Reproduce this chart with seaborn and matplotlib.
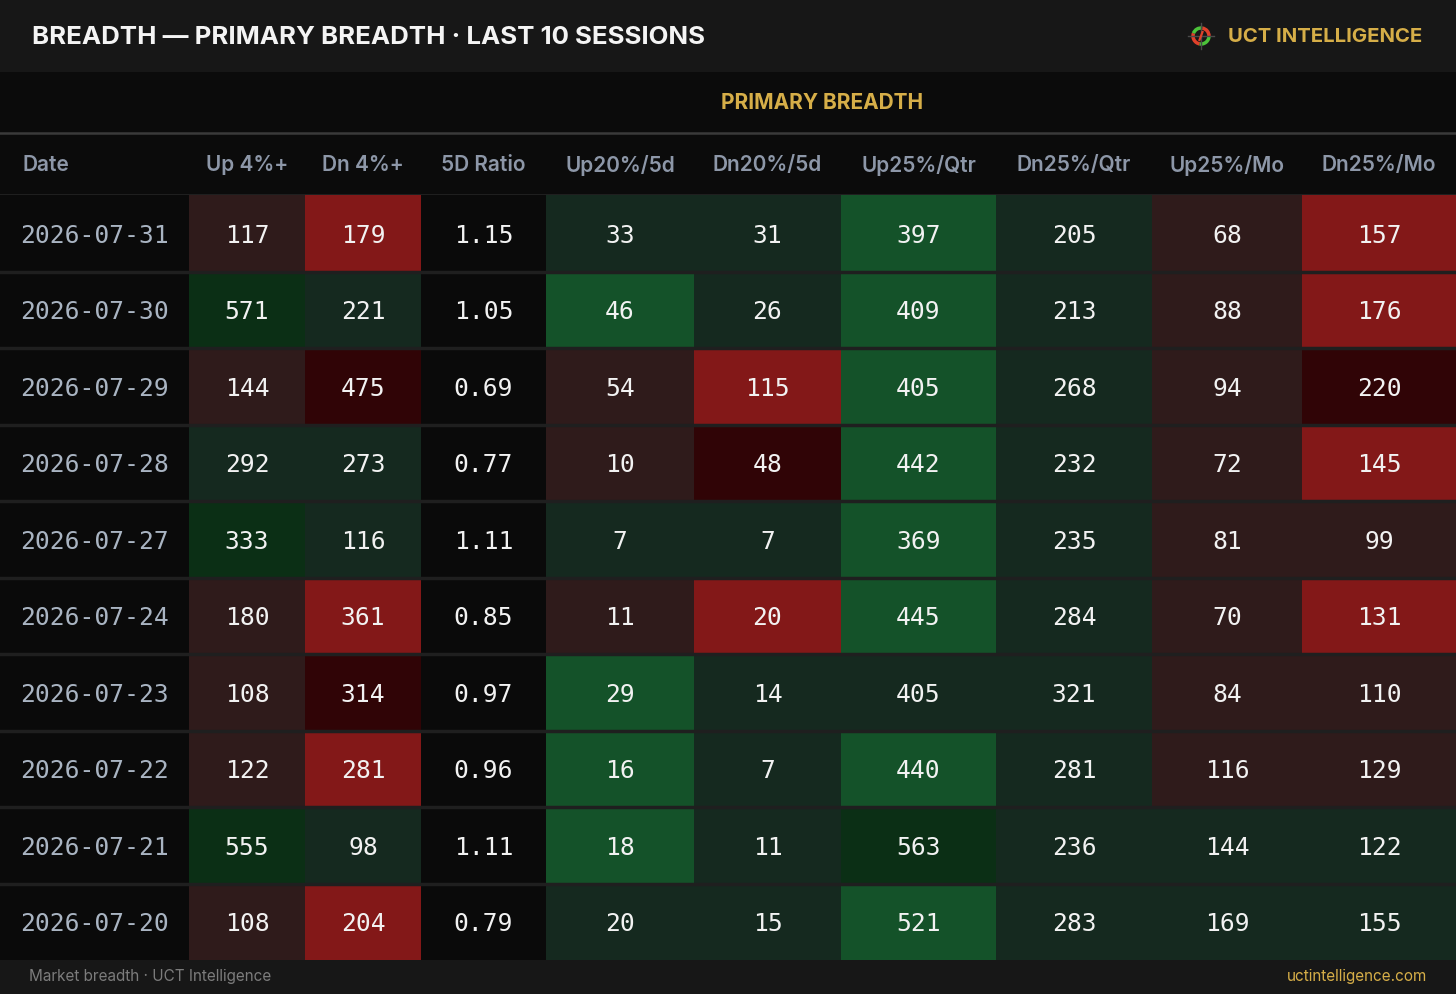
import numpy as np
import pandas as pd
import seaborn as sns
import matplotlib.pyplot as plt
from matplotlib.colors import ListedColormap
from matplotlib.patches import Rectangle, Arc

dates = ['2026-07-31', '2026-07-30', '2026-07-29', '2026-07-28', '2026-07-27',
         '2026-07-24', '2026-07-23', '2026-07-22', '2026-07-21', '2026-07-20']
up4 = [117, 571, 144, 292, 333, 180, 108, 122, 555, 108]
dn4 = [179, 221, 475, 273, 116, 361, 314, 281, 98, 204]
ratio5d = [1.15, 1.05, 0.69, 0.77, 1.11, 0.85, 0.97, 0.96, 1.11, 0.79]
up20_5d = [33, 46, 54, 10, 7, 11, 29, 16, 18, 20]
dn20_5d = [31, 26, 115, 48, 7, 20, 14, 7, 11, 15]
up25_qtr = [397, 409, 405, 442, 369, 445, 405, 440, 563, 521]
dn25_qtr = [205, 213, 268, 232, 235, 284, 321, 281, 236, 283]
up25_mo = [68, 88, 94, 72, 81, 70, 84, 116, 144, 169]
dn25_mo = [157, 176, 220, 145, 99, 131, 110, 129, 122, 155]

# cell shading
up4_shade = ['mr', 'dg', 'mr', 'mg', 'dg', 'mr', 'mr', 'mr', 'dg', 'mr']
dn4_shade = ['r', 'mg', 'dr', 'mg', 'mg', 'r', 'dr', 'r', 'mg', 'r']
up20_shade = ['mg', 'g', 'mr', 'mr', 'mg', 'mr', 'g', 'g', 'g', 'mg']
dn20_shade = ['mg', 'mg', 'r', 'dr', 'mg', 'r', 'mg', 'mg', 'mg', 'mg']
up25q_shade = ['g', 'g', 'g', 'g', 'g', 'g', 'mg', 'g', 'dg', 'g']
dn25q_shade = ['mg'] * 10
up25m_shade = ['mr', 'mr', 'mr', 'mr', 'mr', 'mr', 'mr', 'mr', 'mg', 'mg']
dn25m_shade = ['r', 'r', 'dr', 'r', 'mr', 'r', 'mr', 'mr', 'mg', 'mg']
neutral = ['n'] * 10

headers = ['Date', 'Up 4%+', 'Dn 4%+', '5D Ratio', 'Up20%/5d', 'Dn20%/5d',
           'Up25%/Qtr', 'Dn25%/Qtr', 'Up25%/Mo', 'Dn25%/Mo']

shade_names = ['n', 'mr', 'r', 'dr', 'mg', 'g', 'dg']
shade_colors = ['#0a0a0a', '#2f1b1b', '#831818', '#300406', '#15291f', '#145229', '#0b2f15']
cmap = ListedColormap(shade_colors)

columns = [
    (dates, neutral, '', '#a9b4c2'),
    (up4, up4_shade, 'd', '#f2f2f2'),
    (dn4, dn4_shade, 'd', '#f2f2f2'),
    (ratio5d, neutral, '.2f', '#f2f2f2'),
    (up20_5d, up20_shade, 'd', '#f2f2f2'),
    (dn20_5d, dn20_shade, 'd', '#f2f2f2'),
    (up25_qtr, up25q_shade, 'd', '#f2f2f2'),
    (dn25_qtr, dn25q_shade, 'd', '#f2f2f2'),
    (up25_mo, up25m_shade, 'd', '#f2f2f2'),
    (dn25_mo, dn25m_shade, 'd', '#f2f2f2'),
]

W, H = 1456, 994
edges = [0, 189, 305, 421, 546, 694, 841, 996, 1152, 1302, 1456]
top, bottom = 195, 960
gold = '#d6ae48'
ui_font = ['Inter', 'DejaVu Sans']

fig = plt.figure(figsize=(W / 100, H / 100), dpi=100)
fig.patch.set_facecolor('#0b0b0b')

bg = fig.add_axes([0, 0, 1, 1])
bg.set_xlim(0, W)
bg.set_ylim(H, 0)
bg.axis('off')
bg.add_patch(Rectangle((0, 0), W, 72, color='#171717', lw=0))
bg.add_patch(Rectangle((0, 72), W, 123, color='#0b0b0b', lw=0))
bg.add_patch(Rectangle((0, bottom), W, H - bottom, color='#171717', lw=0))
bg.plot([0, W], [133, 133], color='#3a3a3a', lw=1.8)
bg.plot([0, W], [top, top], color='#222222', lw=2)

bg.text(32, 37, 'BREADTH — PRIMARY BREADTH · LAST 10 SESSIONS', color='#f4f4f4',
        fontsize=18.6, fontweight='bold', family=ui_font, va='center', ha='left')
bg.text(1422, 37, 'UCT INTELLIGENCE', color=gold, fontsize=14.6, fontweight='bold',
        family=ui_font, va='center', ha='right')

# small crosshair logo
cx, cy, r = 1201, 36, 8
bg.add_patch(Arc((cx, cy), 2 * r, 2 * r, theta1=100, theta2=200, color='#e0402a', lw=2.5))
bg.add_patch(Arc((cx, cy), 2 * r, 2 * r, theta1=200, theta2=280, color='#4cc33a', lw=2.5))
bg.add_patch(Arc((cx, cy), 2 * r, 2 * r, theta1=280, theta2=360, color='#e0402a', lw=2.5))
bg.add_patch(Arc((cx, cy), 2 * r, 2 * r, theta1=0, theta2=100, color='#4cc33a', lw=2.5))
bg.plot([cx, cx], [cy - 13, cy + 13], color='#4a4a4a', lw=1)
bg.plot([cx - 13, cx + 13], [cy, cy], color='#4a4a4a', lw=1)
bg.plot([cx - 1.5, cx + 1.5], [cy + 4, cy - 4], color='#e0402a', lw=1.6)

bg.text(822, 103, 'PRIMARY BREADTH', color=gold, fontsize=15, fontweight='bold',
        family=ui_font, va='center', ha='center')

for i, h in enumerate(headers):
    if i == 0:
        bg.text(23, 165, h, color='#8d97a8', fontsize=15, fontweight='semibold',
                family=ui_font, va='center', ha='left')
    else:
        bg.text((edges[i] + edges[i + 1]) / 2, 165, h, color='#8d97a8', fontsize=15,
                fontweight='semibold', family=ui_font, va='center', ha='center')

bg.text(29, 976, 'Market breadth · UCT Intelligence', color='#7c7c7c', fontsize=11,
        family=ui_font, va='center', ha='left')
bg.text(1427, 976, 'uctintelligence.com', color=gold, fontsize=11,
        family=ui_font, va='center', ha='right')

for i, (vals, shade, fmt, tcolor) in enumerate(columns):
    x0, x1 = edges[i], edges[i + 1]
    ax = fig.add_axes([x0 / W, 1 - bottom / H, (x1 - x0) / W, (bottom - top) / H])
    codes = pd.DataFrame({'c': [shade_names.index(s) for s in shade]})
    annot = np.array(vals, dtype=object).reshape(-1, 1) if fmt == '' else np.array(vals).reshape(-1, 1)
    sns.heatmap(codes, cmap=cmap, vmin=-0.5, vmax=len(shade_names) - 0.5, cbar=False,
                annot=annot, fmt=fmt, xticklabels=False, yticklabels=False,
                annot_kws=dict(color=tcolor, fontsize=17.7, family='DejaVu Sans Mono'),
                ax=ax)
    for t in ax.texts:
        tx, ty = t.get_position()
        t.set_position((tx, ty + 0.03))
    for k in range(1, len(vals)):
        ax.axhline(k, color='#1f1f1f', lw=2.5)
    ax.set_xlabel('')
    ax.set_ylabel('')
    ax.axis('off')

fig.savefig('out.png', dpi=100, facecolor=fig.get_facecolor())
